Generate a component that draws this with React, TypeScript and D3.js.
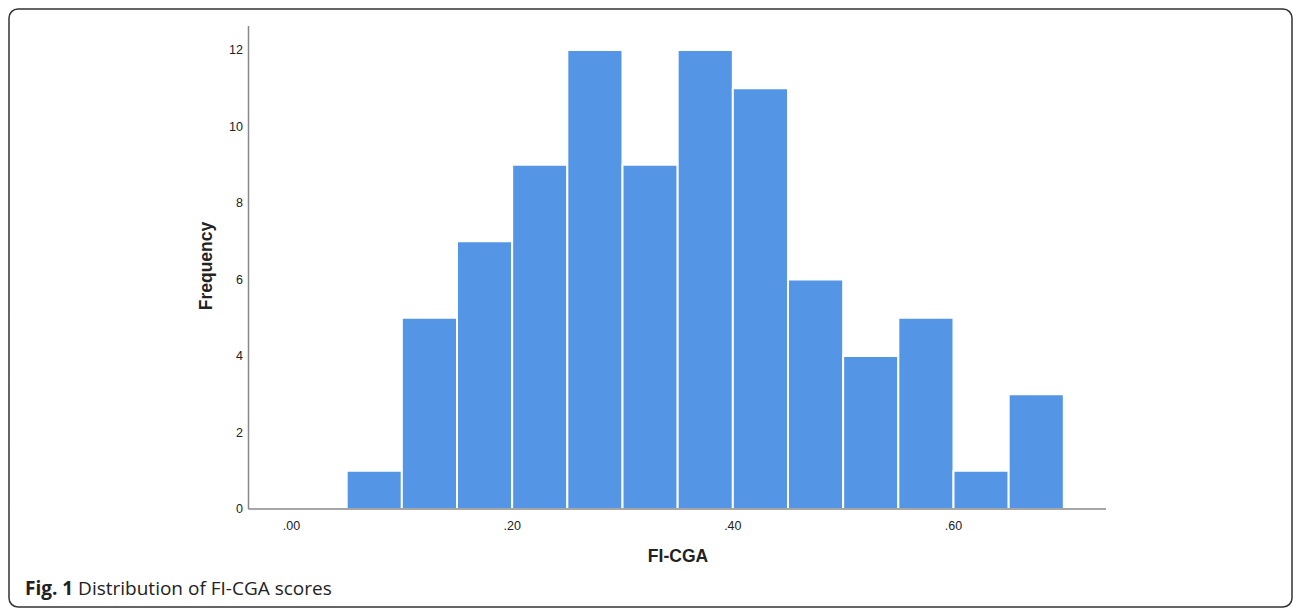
import React from "react";
import * as d3 from "d3";

const binStarts = [0.05, 0.1, 0.15, 0.2, 0.25, 0.3, 0.35, 0.4, 0.45, 0.5, 0.55, 0.6, 0.65];
const frequencies = [1, 5, 7, 9, 12, 9, 12, 11, 6, 4, 5, 1, 3];
const binWidth = 0.05;
const xTicks = [0, 0.2, 0.4, 0.6];
const yTicks = [0, 2, 4, 6, 8, 10, 12];

export default function App() {
  const W = 1296, H = 611;
  const x = d3.scaleLinear().domain([0, 0.6]).range([291.5, 953.5]);
  const y = d3.scaleLinear().domain([0, 12]).range([509, 50]);
  const fmtX = (v: number) => d3.format(".2f")(v).replace(/^0/, "");
  const font = "Liberation Sans, Arial, sans-serif";
  return (
    <svg width={W} height={H} style={{ position: "absolute", left: 0, top: 0 }}>
      <rect x={9} y={9} width={1283} height={598} rx={9} ry={9} fill="white" stroke="#333" strokeWidth={1.5} />
      {binStarts.map((b, i) => (
        <rect
          key={i}
          x={x(b)}
          y={y(frequencies[i])}
          width={x(b + binWidth) - x(b)}
          height={y(0) - y(frequencies[i])}
          fill="#5595e6"
          stroke="white"
          strokeWidth={2}
        />
      ))}
      <line x1={248.5} x2={248.5} y1={26} y2={509} stroke="#888" strokeWidth={1.5} />
      <line x1={248.5} x2={1106} y1={509} y2={509} stroke="#888" strokeWidth={1.5} />
      {yTicks.map((t) => (
        <text key={t} x={243} y={y(t)} dy="0.35em" textAnchor="end" fontFamily={font} fontSize={12.5} fill="#222">
          {t}
        </text>
      ))}
      {xTicks.map((t) => (
        <text key={t} x={x(t)} y={526} dy="0.35em" textAnchor="middle" fontFamily={font} fontSize={12.5} fill="#222">
          {fmtX(t)}
        </text>
      ))}
      <text transform="translate(212,266) rotate(-90)" textAnchor="middle" fontFamily={font} fontWeight="bold" fontSize={17.5} fill="#222">
        Frequency
      </text>
      <text x={678} y={562} textAnchor="middle" fontFamily={font} fontWeight="bold" fontSize={17.5} fill="#222">
        FI-CGA
      </text>
      <text x={25} y={595} fontFamily="Open Sans, sans-serif" fontSize={19} fill="#222">
        <tspan fontWeight="bold">Fig. 1</tspan>
        <tspan> Distribution of FI-CGA scores</tspan>
      </text>
    </svg>
  );
}
